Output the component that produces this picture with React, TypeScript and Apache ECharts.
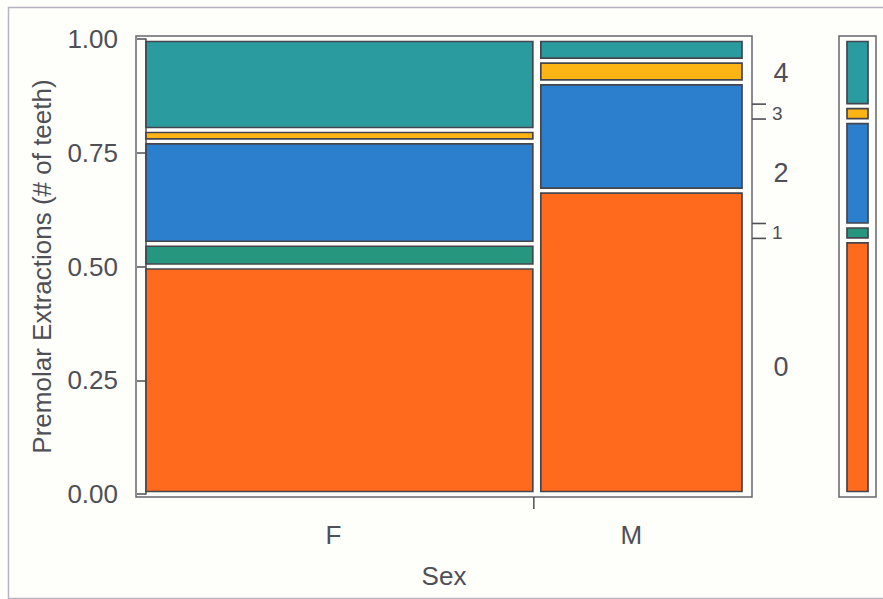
import React, { useEffect, useRef } from "react";
import * as echarts from "echarts";

// Premolar extractions by sex (counts of patients per number of teeth removed)
const sexes = ["F", "M"];
const levels = ["0", "1", "2", "3", "4"];
const countsF = [20, 2, 9, 1, 8];
const countsM = [14, 0, 5, 1, 1];
const yTicks = [0, 0.25, 0.5, 0.75, 1];

const levelColors = ["#FF6A1C", "#27967E", "#2C7FCC", "#FDB515", "#2A9CA0"];
const FONT = "Liberation Sans, Arial, sans-serif";
const INK = "#4f4f56";
const EDGE = "#45454e";

const columns = [countsF, countsM];
const colTotals = columns.map((c) => c.reduce((a, b) => a + b, 0));
const grandTotal = colTotals.reduce((a, b) => a + b, 0);

// Mosaic cells: [x0, x1, y0, y1, levelIndex]
const cellData: number[][] = [];
const colData: number[][] = [];
let xCum = 0;
columns.forEach((counts, ci) => {
  const x0 = xCum / grandTotal;
  xCum += colTotals[ci];
  const x1 = xCum / grandTotal;
  colData.push([x0, x1, ci]);
  let yCum = 0;
  counts.forEach((n, li) => {
    const y0 = yCum / colTotals[ci];
    yCum += n;
    const y1 = yCum / colTotals[ci];
    if (n > 0) cellData.push([x0, x1, y0, y1, li]);
  });
});

// Marginal distribution over both sexes
const marginCounts = levels.map((_, li) => countsF[li] + countsM[li]);
const marginData: number[][] = [];
{
  let cum = 0;
  marginCounts.forEach((n, li) => {
    const y0 = cum / grandTotal;
    cum += n;
    const y1 = cum / grandTotal;
    if (n > 0) marginData.push([y0, y1, li]);
  });
}

function cellRenderer(hGap: number) {
  return (params: any, api: any) => {
    const x0 = api.value(0);
    const x1 = api.value(1);
    const y0 = api.value(2);
    const y1 = api.value(3);
    const li = api.value(4);
    const a = api.coord([x0, y0]);
    const b = api.coord([x1, y1]);
    const inL = x0 <= 0 ? 0 : hGap;
    const inR = x1 >= 1 ? 0 : hGap;
    const vin = 2.5;
    return {
      type: "rect",
      shape: {
        x: a[0] + inL,
        y: b[1] + vin,
        width: b[0] - a[0] - inL - inR,
        height: a[1] - b[1] - 2 * vin,
      },
      style: { fill: levelColors[li], stroke: EDGE, lineWidth: 1.7 },
    };
  };
}

function frameRenderer(padX: number) {
  return (params: any, api: any) => {
    const a = api.coord([0, 0]);
    const b = api.coord([1, 1]);
    return {
      type: "rect",
      shape: {
        x: a[0] - padX,
        y: b[1] - 3,
        width: b[0] - a[0] + 2 * padX,
        height: a[1] - b[1] + 6,
      },
      style: { fill: "none", stroke: "#66666e", lineWidth: 1.5 },
    };
  };
}

export default function App() {
  const ref = useRef<HTMLDivElement>(null);

  useEffect(() => {
    if (!ref.current) return;
    const chart = echarts.init(ref.current, null, { renderer: "svg" });

    const option: any = {
      animation: false,
      backgroundColor: "#fefefb",
      graphic: [
        {
          type: "rect",
          left: 6,
          top: 5,
          shape: { x: 0, y: 0, width: 900, height: 591 },
          style: { fill: "none", stroke: "#b9b2c0", lineWidth: 1.5 },
          silent: true,
        },
      ],
      grid: [
        { left: 146, top: 39, width: 596, height: 455 },
        { left: 847, top: 39, width: 21, height: 455 },
      ],
      xAxis: [
        {
          type: "value",
          gridIndex: 0,
          min: 0,
          max: 1,
          axisLine: { show: false },
          axisTick: { show: false },
          axisLabel: { show: false },
          splitLine: { show: false },
          name: "Sex",
          nameLocation: "middle",
          nameGap: 69,
          nameTextStyle: { fontSize: 26, color: INK, fontFamily: FONT },
        },
        { type: "value", gridIndex: 1, min: 0, max: 1, show: false },
      ],
      yAxis: [
        {
          type: "value",
          gridIndex: 0,
          min: 0,
          max: 1,
          interval: 0.25,
          offset: 10,
          axisLine: { show: true, lineStyle: { color: INK, width: 1.5 } },
          axisTick: { show: true, length: 9, lineStyle: { color: INK, width: 1.5 } },
          axisLabel: {
            formatter: (v: number) => (yTicks.includes(v) ? v.toFixed(2) : ""),
            fontSize: 26,
            color: INK,
            fontFamily: FONT,
            margin: 18,
          },
          splitLine: { show: false },
          name: "Premolar Extractions (# of teeth)",
          nameLocation: "middle",
          nameGap: 81,
          nameTextStyle: { fontSize: 26, color: INK, fontFamily: FONT },
        },
        { type: "value", gridIndex: 1, min: 0, max: 1, show: false },
      ],
      series: [
        {
          type: "custom",
          xAxisIndex: 0,
          yAxisIndex: 0,
          data: [[0]],
          renderItem: frameRenderer(10),
          silent: true,
        },
        {
          type: "custom",
          xAxisIndex: 0,
          yAxisIndex: 0,
          data: cellData,
          encode: { x: [0, 1], y: [2, 3] },
          renderItem: cellRenderer(4),
          silent: true,
        },
        {
          // column labels and the tick between columns
          type: "custom",
          xAxisIndex: 0,
          yAxisIndex: 0,
          data: colData,
          renderItem: (params: any, api: any) => {
            const x0 = api.value(0);
            const x1 = api.value(1);
            const ci = api.value(2);
            const a = api.coord([x0, 0]);
            const b = api.coord([x1, 0]);
            const children: any[] = [
              {
                type: "text",
                style: {
                  text: sexes[ci],
                  x: (a[0] + b[0]) / 2 - 8,
                  y: a[1] + 41,
                  align: "center",
                  verticalAlign: "middle",
                  fontSize: 26,
                  fill: INK,
                  fontFamily: FONT,
                },
              },
            ];
            if (x1 < 1) {
              children.push({
                type: "line",
                shape: { x1: b[0] - 3, y1: b[1] + 3, x2: b[0] - 3, y2: b[1] + 15 },
                style: { stroke: INK, lineWidth: 1.5 },
              });
            }
            return { type: "group", children };
          },
          silent: true,
        },
        {
          // level labels on the right of the mosaic
          type: "custom",
          xAxisIndex: 0,
          yAxisIndex: 0,
          data: marginData,
          renderItem: (params: any, api: any) => {
            const y0 = api.value(0);
            const y1 = api.value(1);
            const li = api.value(2);
            const top = api.coord([1, y1]);
            const bot = api.coord([1, y0]);
            const h = bot[1] - top[1];
            const edge = top[0] + 10;
            const mid = (top[1] + bot[1]) / 2;
            if (h < 30) {
              return {
                type: "group",
                children: [
                  {
                    type: "line",
                    shape: { x1: edge, y1: top[1] - 2, x2: edge + 14, y2: top[1] - 2 },
                    style: { stroke: INK, lineWidth: 1.6 },
                  },
                  {
                    type: "line",
                    shape: { x1: edge, y1: bot[1] - 2, x2: edge + 14, y2: bot[1] - 2 },
                    style: { stroke: INK, lineWidth: 1.6 },
                  },
                  {
                    type: "text",
                    style: {
                      text: levels[li],
                      x: edge + 20,
                      y: mid,
                      align: "left",
                      verticalAlign: "middle",
                      fontSize: 19,
                      fill: INK,
                      fontFamily: FONT,
                    },
                  },
                ],
              };
            }
            return {
              type: "text",
              style: {
                text: levels[li],
                x: edge + 29,
                y: mid,
                align: "center",
                verticalAlign: "middle",
                fontSize: 27,
                fill: INK,
                fontFamily: FONT,
              },
            };
          },
          silent: true,
        },
        {
          type: "custom",
          xAxisIndex: 1,
          yAxisIndex: 1,
          data: [[0]],
          renderItem: frameRenderer(8),
          silent: true,
        },
        {
          type: "custom",
          xAxisIndex: 1,
          yAxisIndex: 1,
          data: marginData.map((d) => [0, 1, d[0], d[1], d[2]]),
          encode: { x: [0, 1], y: [2, 3] },
          renderItem: cellRenderer(0),
          silent: true,
        },
      ],
    };

    chart.setOption(option);
    return () => {
      chart.dispose();
    };
  }, []);

  return (
    <div
      ref={ref}
      style={{ position: "fixed", left: 0, top: 0, width: 883, height: 599 }}
    />
  );
}
